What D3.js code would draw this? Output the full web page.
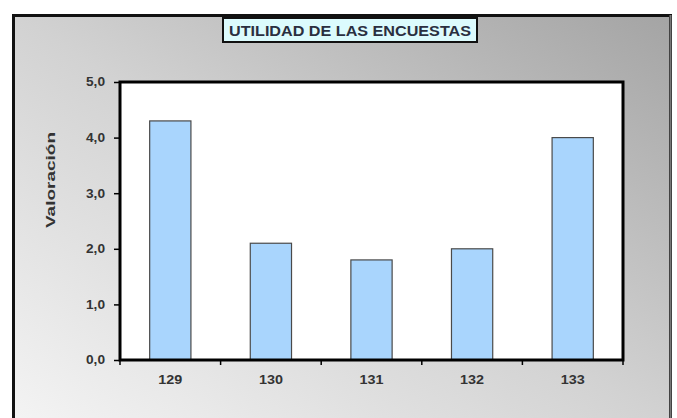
<!DOCTYPE html>
<html><head><meta charset="utf-8">
<script src="https://cdn.jsdelivr.net/npm/d3@7"></script>
<style>html,body{margin:0;padding:0;background:#fff;}svg{display:block;}</style>
</head><body>
<script>
const categories = ["129","130","131","132","133"];
const values = [4.3, 2.1, 1.8, 2.0, 4.0];
const yTicks = [0,1,2,3,4,5];
const title = "UTILIDAD DE LAS ENCUESTAS";
const yLabel = "Valoración";

const W = 677, H = 418;
const svg = d3.select("body").append("svg").attr("width", W).attr("height", H);
const defs = svg.append("defs");
const g = defs.append("linearGradient").attr("id","bg").attr("x1","0").attr("y1","1").attr("x2","1").attr("y2","0");
g.append("stop").attr("offset","0").attr("stop-color","#f4f4f4");
g.append("stop").attr("offset","0.5").attr("stop-color","#d2d2d2");
g.append("stop").attr("offset","1").attr("stop-color","#a4a4a4");

// outer frame
svg.append("rect").attr("x",13.5).attr("y",15.5).attr("width",657).attr("height",410)
  .attr("fill","url(#bg)").attr("stroke","#111").attr("stroke-width",3);
svg.append("line").attr("x1",670.5).attr("x2",670.5).attr("y1",15).attr("y2",418).attr("stroke","#777").attr("stroke-width",2);

const m = {left:120, top:82, right:623, bottom:360};
const x = d3.scaleBand().domain(categories).range([m.left, m.right]).paddingInner(0.59).paddingOuter(0.295);
const xb = d3.scaleBand().domain(categories).range([m.left, m.right]);
const y = d3.scaleLinear().domain([0,5]).range([m.bottom, m.top]);

svg.append("rect").attr("x",m.left).attr("y",m.top).attr("width",m.right-m.left).attr("height",m.bottom-m.top).attr("fill","#fff");

svg.selectAll("rect.bar").data(values).join("rect").attr("class","bar")
  .attr("x",(d,i)=>x(categories[i])).attr("width",x.bandwidth())
  .attr("y",d=>y(d)).attr("height",d=>y(0)-y(d))
  .attr("fill","#a9d5fd").attr("stroke","#4a4a4a").attr("stroke-width",1.2);

svg.append("rect").attr("x",m.left).attr("y",m.top).attr("width",m.right-m.left).attr("height",m.bottom-m.top)
  .attr("fill","none").attr("stroke","#000").attr("stroke-width",3);

const font = "Liberation Sans, Arial, sans-serif";
// y axis
const ya = svg.append("g").attr("transform",`translate(${m.left},0)`)
  .call(d3.axisLeft(y).tickValues(yTicks).tickSize(6).tickFormat(d=>d3.format(".1f")(d).replace(".",",")));
ya.select(".domain").remove();
ya.selectAll("line").attr("stroke","#000").attr("stroke-width",1.5);
ya.selectAll("text").attr("font-family",font).attr("font-weight","bold")
  .attr("font-size",12).attr("fill","#333").attr("x",-15)
  .attr("textLength",19).attr("lengthAdjust","spacingAndGlyphs");

// x axis
const xa = svg.append("g").attr("transform",`translate(0,${m.bottom})`)
  .call(d3.axisBottom(xb).tickSize(0).tickPadding(15));
xa.select(".domain").remove();
xa.selectAll("text").attr("font-family",font).attr("font-weight","bold")
  .attr("font-size",12.5).attr("fill","#333")
  .attr("textLength",24).attr("lengthAdjust","spacingAndGlyphs");
// category boundary ticks
const bounds = categories.map(c=>xb(c)).concat([m.right]);
svg.selectAll("line.xt").data(bounds).join("line").attr("class","xt")
  .attr("x1",d=>d).attr("x2",d=>d).attr("y1",m.bottom).attr("y2",m.bottom+5)
  .attr("stroke","#000").attr("stroke-width",1.5);

// y label
svg.append("text").attr("transform","translate(55,180) rotate(-90)").attr("text-anchor","middle")
  .attr("font-family",font).attr("font-weight","bold").attr("font-size",13.5)
  .attr("textLength",96).attr("lengthAdjust","spacingAndGlyphs")
  .attr("fill","#333").text(yLabel);

// title box
svg.append("rect").attr("x",223).attr("y",18).attr("width",254).attr("height",24)
  .attr("fill","#dcfbfd").attr("stroke","#111").attr("stroke-width",2);
svg.append("text").attr("x",350).attr("y",36).attr("text-anchor","middle")
  .attr("font-family",font).attr("font-weight","bold")
  .attr("font-size",14).attr("textLength",242).attr("lengthAdjust","spacingAndGlyphs")
  .attr("fill","#2a2f40").text(title);
</script>
</body></html>
